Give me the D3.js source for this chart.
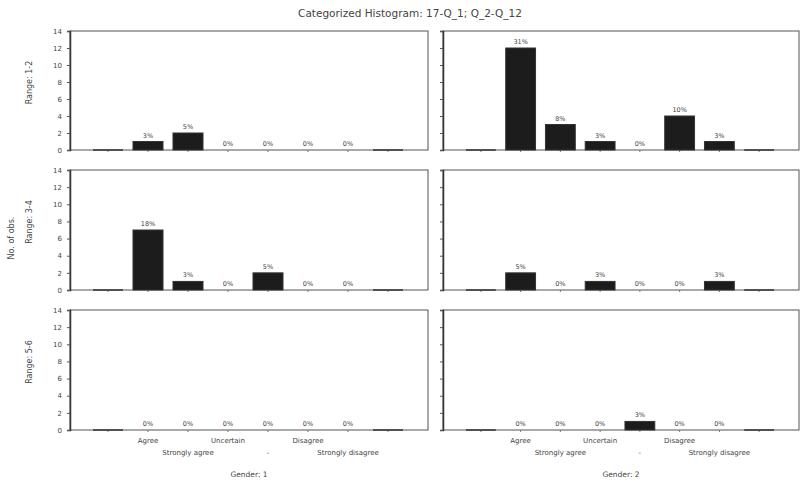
<!DOCTYPE html>
<html>
<head>
<meta charset="utf-8">
<script src="https://cdn.jsdelivr.net/npm/d3@7"></script>
<style>
  body { margin: 0; background: #fff; }
  text { font-family: "DejaVu Sans", sans-serif; fill: #444; }
</style>
</head>
<body>
<script>
// categories on the x axis (two label rows, alternating)
var categories = ["Agree", "Strongly agree", "Uncertain", "-", "Disagree", "Strongly disagree"];
var colCats = ["Gender: 1", "Gender: 2"];
var rowCats = ["Range: 1-2", "Range: 3-4", "Range: 5-6"];
var yTicks = [0, 2, 4, 6, 8, 10, 12, 14];

// counts per panel, row by row (left, right)
var r1g1 = [1, 2, 0, 0, 0, 0];
var r1g2 = [12, 3, 1, 0, 4, 1];
var r2g1 = [7, 1, 0, 2, 0, 0];
var r2g2 = [2, 0, 1, 0, 0, 1];
var r3g1 = [0, 0, 0, 0, 0, 0];
var r3g2 = [0, 0, 0, 1, 0, 0];

// percent labels as printed above the bars
var p1g1 = ["3%", "5%", "0%", "0%", "0%", "0%"];
var p1g2 = ["31%", "8%", "3%", "0%", "10%", "3%"];
var p2g1 = ["18%", "3%", "0%", "5%", "0%", "0%"];
var p2g2 = ["5%", "0%", "3%", "0%", "0%", "3%"];
var p3g1 = ["0%", "0%", "0%", "0%", "0%", "0%"];
var p3g2 = ["0%", "0%", "0%", "3%", "0%", "0%"];

var counts = [[r1g1, r1g2], [r2g1, r2g2], [r3g1, r3g2]];
var pcts = [[p1g1, p1g2], [p2g1, p2g2], [p3g1, p3g2]];

var cols = [{x0: 70, x1: 428}, {x0: 443, x1: 799}];
var rows = [{y0: 31, y1: 150}, {y0: 170, y1: 290}, {y0: 310, y1: 430}];

var svg = d3.select("body").append("svg")
  .attr("width", 801)
  .attr("height", 486);

svg.append("rect").attr("width", 801).attr("height", 486).attr("fill", "#fff");

svg.append("text")
  .attr("x", 410).attr("y", 17)
  .attr("text-anchor", "middle")
  .attr("font-size", 10.5)
  .text("Categorized Histogram: 17-Q_1; Q_2-Q_12");

// outer y title
svg.append("text")
  .attr("transform", "translate(14,238) rotate(-90)")
  .attr("text-anchor", "middle")
  .attr("font-size", 8)
  .text("No. of obs.");

var bins = ["lo"].concat(categories).concat(["hi"]);

rows.forEach(function(row, ri){
  var y = d3.scaleLinear().domain([0, 14]).range([row.y1, row.y0]);

  svg.append("text")
    .attr("transform", "translate(32," + ((row.y0 + row.y1) / 2 - 8) + ") rotate(-90)")
    .attr("text-anchor", "middle")
    .attr("font-size", 8)
    .text(rowCats[ri]);

  cols.forEach(function(col, ci){
    var x = d3.scaleBand().domain(bins)
      .range([col.x0 + 18, col.x1 - 20])
      .paddingInner(0.25).paddingOuter(0.125);
    var g = svg.append("g");

    // frame
    g.append("rect")
      .attr("x", col.x0).attr("y", row.y0)
      .attr("width", col.x1 - col.x0).attr("height", row.y1 - row.y0)
      .attr("fill", "none").attr("stroke", "#555").attr("stroke-width", 1);

    // y axis
    var ax = d3.axisLeft(y).tickValues(yTicks).tickSize(3)
      .tickFormat(ci === 0 ? d3.format("d") : "");
    var axg = g.append("g").attr("transform", "translate(" + col.x0 + ",0)").call(ax);
    axg.select(".domain").attr("stroke", "#333").attr("stroke-width", 1.5);
    axg.selectAll(".tick line").attr("stroke", "#555");
    axg.selectAll(".tick text").attr("font-size", 7).attr("fill", "#555").attr("x", -8);

    // bottom ticks at bins
    var bx = d3.axisBottom(x).tickSize(2).tickFormat("");
    var bxg = g.append("g").attr("transform", "translate(0," + row.y1 + ")").call(bx);
    bxg.select(".domain").remove();
    bxg.selectAll(".tick line").attr("stroke", "#777");

    var data = counts[ri][ci].map(function(v, i){
      return {cat: categories[i], v: v, p: pcts[ri][ci][i]};
    });

    // empty edge bins
    g.selectAll("line.edge").data(["lo", "hi"]).enter().append("line")
      .attr("x1", function(d){ return x(d); })
      .attr("x2", function(d){ return x(d) + x.bandwidth(); })
      .attr("y1", y(0)).attr("y2", y(0))
      .attr("stroke", "#333").attr("stroke-width", 1.5);

    g.selectAll("rect.bar").data(data).enter().append("rect")
      .attr("class", "bar")
      .attr("x", function(d){ return x(d.cat); })
      .attr("y", function(d){ return y(d.v); })
      .attr("width", x.bandwidth())
      .attr("height", function(d){ return y(0) - y(d.v); })
      .attr("fill", "#1c1c1c")
      .attr("stroke", "#333");

    g.selectAll("text.pct").data(data).enter().append("text")
      .attr("x", function(d){ return x(d.cat) + x.bandwidth() / 2; })
      .attr("y", function(d){ return y(d.v) - 4; })
      .attr("text-anchor", "middle")
      .attr("font-size", 6.5)
      .attr("fill", "#555")
      .text(function(d){ return d.p; });

    // x labels and column title under the last row
    if (ri === rows.length - 1) {
      g.selectAll("text.xl").data(categories).enter().append("text")
        .attr("x", function(d){ return x(d) + x.bandwidth() / 2; })
        .attr("y", function(d, i){ return row.y1 + (i % 2 === 0 ? 13 : 25); })
        .attr("text-anchor", "middle")
        .attr("font-size", 7)
        .text(function(d){ return d; });

      g.append("text")
        .attr("x", (col.x0 + col.x1) / 2)
        .attr("y", row.y1 + 47)
        .attr("text-anchor", "middle")
        .attr("font-size", 7.5)
        .text(colCats[ci]);
    }
  });
});
</script>
</body>
</html>
